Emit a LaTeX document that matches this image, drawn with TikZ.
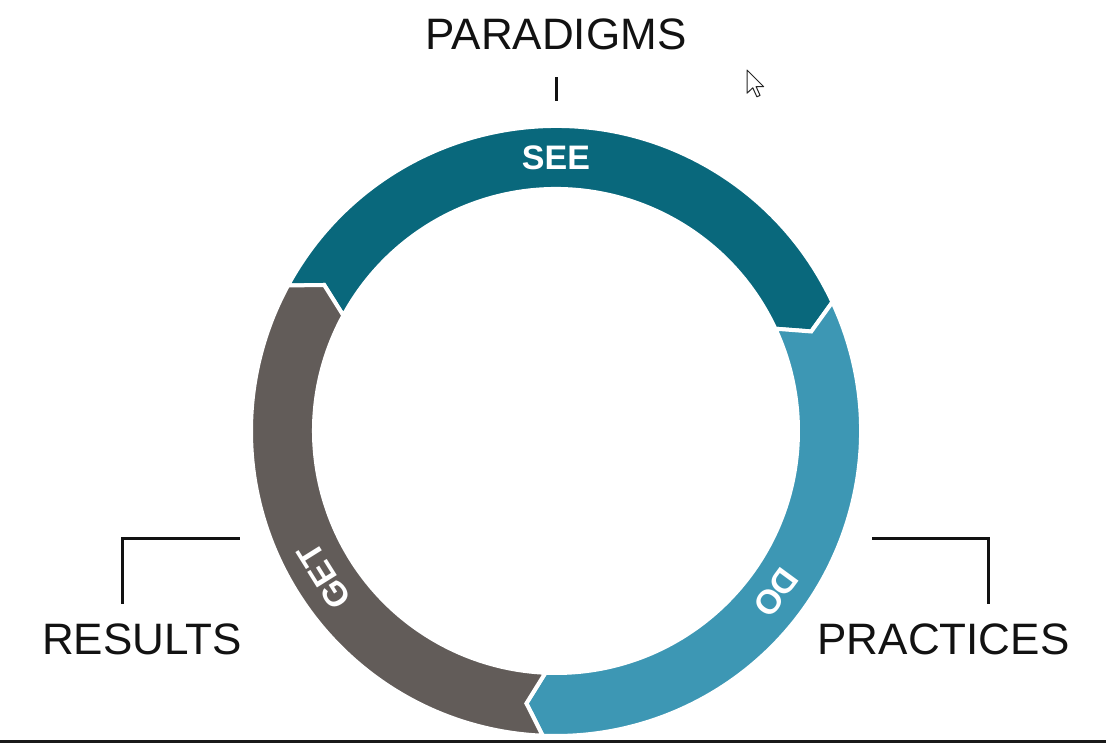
\documentclass[tikz,border=0pt]{standalone}
\usepackage{fontspec}
\setmainfont{Liberation Sans}
\begin{document}
\begin{tikzpicture}[x=1pt,y=1pt,
  seg/.style={draw=white,line width=4pt,line join=miter},
  ringlabel/.style={text=white,font=\fontsize{34}{34}\selectfont\bfseries,inner sep=0pt},
  biglabel/.style={text=black!93,font=\fontsize{44}{44}\selectfont,inner sep=0pt,anchor=base},
  bracket/.style={draw=black!93,line width=3pt},
]
\definecolor{seecol}{HTML}{09687C}
\definecolor{docol}{HTML}{3D97B4}
\definecolor{getcol}{HTML}{625C59}
\useasboundingbox (0,0) rectangle (1106,743);
\fill[white] (0,0) rectangle (1106,743);

% ring of three arrow segments, clockwise: SEE -> DO -> GET
\begin{scope}[shift={(556,312)}]
  \def\dl{3.7}
  % SEE
  \fill[seg,fill=seecol] (151.5:305) arc[start angle=151.5,end angle=25,radius=305]
    -- ({25-\dl}:274) -- (25:242) arc[start angle=25,end angle=151.5,radius=242]
    -- ({151.5-\dl}:274) -- cycle;
  % DO
  \fill[seg,fill=docol] (25:305) arc[start angle=25,end angle=-92.5,radius=305]
    -- ({-92.5-\dl}:274) -- (-92.5:242) arc[start angle=-92.5,end angle=25,radius=242]
    -- ({25-\dl}:274) -- cycle;
  % GET
  \fill[seg,fill=getcol] (267.5:305) arc[start angle=267.5,end angle=151.5,radius=305]
    -- ({151.5-\dl}:274) -- (151.5:242) arc[start angle=151.5,end angle=267.5,radius=242]
    -- ({267.5-\dl}:274) -- cycle;
  \node[ringlabel,rotate=0] (see) at (90:273) {SEE};
  \node[ringlabel,rotate=-126.3] (do) at (-36.3:273) {DO};
  \node[ringlabel,rotate=122] (get) at (212:274) {GET};
  \coordinate (ringtop) at (90:329);
  \coordinate (ringleft) at (217:317);
  \coordinate (ringright) at (-38:409);
\end{scope}

% outer labels
\node[biglabel] (paradigms) at (556,693) {PARADIGMS};
\node[biglabel] (results) at (142,88) {RESULTS};
\node[biglabel] (practices) at (943.5,88) {PRACTICES};

% tick under PARADIGMS
\draw[bracket] (556,642) -- (556,666);

% corner brackets above the side labels
\coordinate (rescorner) at (122,204);
\coordinate (praccorner) at (988,204);
\draw[bracket] (122,139) -- (rescorner) -- (240,204);
\draw[bracket] (872,204) -- (praccorner) -- (988,139);

% mouse pointer
\begin{scope}[shift={(747,673)},xscale=1.45,yscale=-1.45]
  \filldraw[fill=white,draw=black!85,line width=1pt,line join=round]
    (0,0) -- (0,16) -- (4,12.3) -- (6.8,18.5) -- (9,17.5) -- (6.3,11.5) -- (11.5,11.5) -- cycle;
\end{scope}

% bottom edge bar
\fill[black!90] (0,0) rectangle (1106,3);
\end{tikzpicture}
\end{document}
